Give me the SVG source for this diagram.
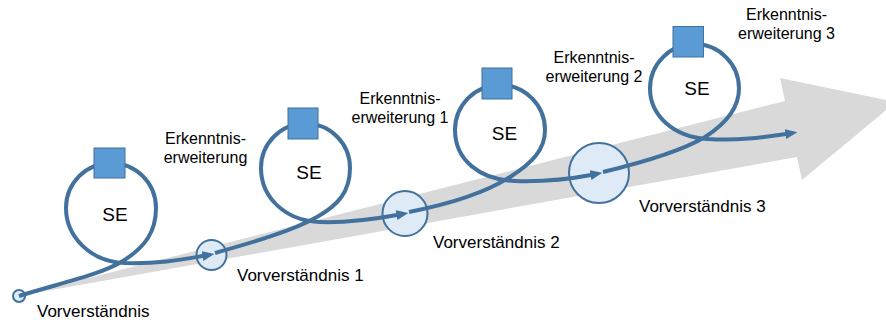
<svg xmlns="http://www.w3.org/2000/svg" width="886" height="322" viewBox="0 0 886 322">
<style>
.bg{fill:#d9d9d9;stroke:none}
.flow{fill:none;stroke:#41719c;stroke-width:4}
.pre{fill:#deebf7;stroke:#41719c;stroke-width:2}
.sq{fill:#5b9bd5;stroke:#41719c;stroke-width:1}
.lbl{font-family:"Liberation Sans",Arial,sans-serif;font-size:17px;fill:#000}
.ek{font-family:"Liberation Sans",Arial,sans-serif;font-size:16px;fill:#000;text-anchor:middle}
.se{font-family:"Liberation Sans",Arial,sans-serif;font-size:19px;fill:#000;text-anchor:middle}
</style>
<defs>
<marker id="ah" markerUnits="userSpaceOnUse" markerWidth="12" markerHeight="10" viewBox="0 -5 12 10" refX="0.5" refY="0" orient="auto">
<path d="M0,-5 L12,0 L0,5 z" fill="#41719c"/>
</marker>
</defs>
<polygon class="bg" points="18,296 785,101 780,78 896,102 802,180 797,157"/>
<g id="vorverstaendnis">
<circle class="pre" cx="19" cy="296" r="6"/>
<text class="lbl" x="37" y="317">Vorverständnis</text>
</g>
<g id="vorverstaendnis1">
<circle class="pre" cx="211.5" cy="255" r="15"/>
<text class="lbl" x="237" y="281">Vorverständnis 1</text>
</g>
<g id="vorverstaendnis2">
<circle class="pre" cx="405" cy="213.5" r="22.5"/>
<text class="lbl" x="433" y="248">Vorverständnis 2</text>
</g>
<g id="vorverstaendnis3">
<circle class="pre" cx="599" cy="173" r="30"/>
<text class="lbl" x="639" y="212">Vorverständnis 3</text>
</g>
<g id="connectors">
<path class="flow" marker-end="url(#ah)" d="M19,296 C60,283 100,275 123,261 C145,247 156,232 156,208 A45,45 0 0 0 66,208 C66,236 90,262 125,263 C160,264 185,259 203,256"/>
<path class="flow" marker-end="url(#ah)" d="M215,253 C250,243 290,232 317,217 C338,205 350,192 350,168 A44.5,44.5 0 0 0 261,168 C261,198 286,221 320,222 C350,223 375,219 397,215"/>
<path class="flow" marker-end="url(#ah)" d="M409,212 C440,206 482,195 510,177 C532,163 545,150 545,130 A45,45 0 0 0 455,130 C455,160 480,180 515,181 C545,182 570,179 591,175"/>
<path class="flow" marker-end="url(#ah)" d="M603,172 C632,165 680,152 705,137 C727,123 739,108 739,88.5 A44.5,44.5 0 0 0 650,88.5 C650,115 673,137 708,139 C740,141 765,137 786,134"/>
</g>
<g id="se1">
<rect class="sq" x="94" y="148" width="31" height="30"/>
<text class="se" x="115" y="221">SE</text>
</g>
<g id="se2">
<rect class="sq" x="288" y="108" width="30" height="31"/>
<text class="se" x="309" y="179">SE</text>
</g>
<g id="se3">
<rect class="sq" x="482" y="68" width="30" height="31"/>
<text class="se" x="504.5" y="140">SE</text>
</g>
<g id="se4">
<rect class="sq" x="673" y="26.5" width="30.5" height="30.5"/>
<text class="se" x="697" y="95">SE</text>
</g>
<g id="erkenntnis">
<text class="ek" x="205.5" y="144">Erkenntnis-</text>
<text class="ek" x="205.5" y="163">erweiterung</text>
</g>
<g id="erkenntnis1">
<text class="ek" x="400" y="104">Erkenntnis-</text>
<text class="ek" x="400" y="123">erweiterung 1</text>
</g>
<g id="erkenntnis2">
<text class="ek" x="594" y="63">Erkenntnis-</text>
<text class="ek" x="594" y="82">erweiterung 2</text>
</g>
<g id="erkenntnis3">
<text class="ek" x="786.5" y="20">Erkenntnis-</text>
<text class="ek" x="786.5" y="39">erweiterung 3</text>
</g>
</svg>
